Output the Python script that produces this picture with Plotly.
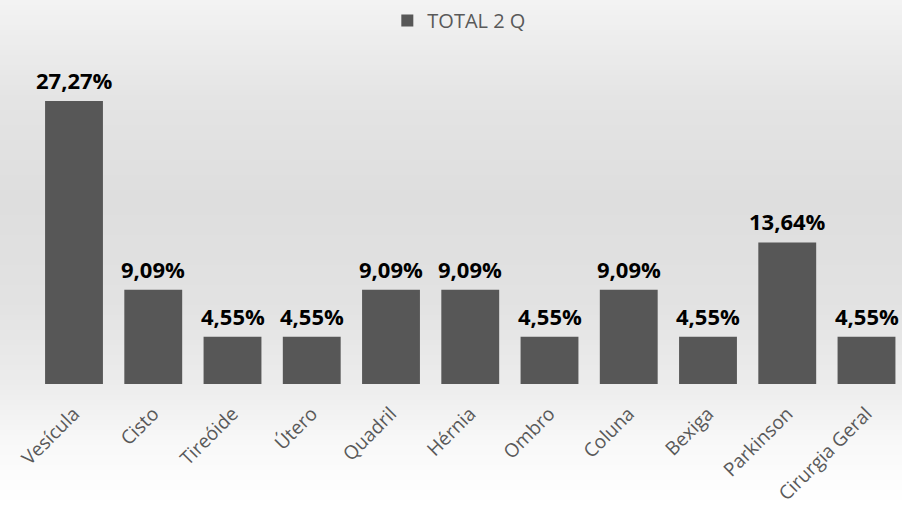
import plotly.graph_objects as go

categories = ["Vesícula", "Cisto", "Tireóide", "Útero", "Quadril", "Hérnia",
              "Ombro", "Coluna", "Bexiga", "Parkinson", "Cirurgia Geral"]
values = [27.27, 9.09, 4.55, 4.55, 9.09, 9.09, 4.55, 9.09, 4.55, 13.64, 4.55]
series_name = "TOTAL 2 Q"
labels = [f"{v:.2f}".replace(".", ",") + "%" for v in values]

W, H = 902, 505
PLOT_TOP, PLOT_BOTTOM = 40, 384
ML = 34

fig = go.Figure()
fig.add_trace(go.Bar(
    x=categories, y=values, name=series_name,
    marker=dict(color="#575757", line=dict(width=0)),
    cliponaxis=False,
))

annotations = [
    dict(x=c, y=v, xref="x", yref="y", text=t, showarrow=False,
         yanchor="bottom", yshift=4,
         font=dict(family="Open Sans", size=22, color="#000000", weight="bold"))
    for c, v, t in zip(categories, values, labels)
]

def shade(py):
    stops = [(0, 243), (100, 228), (200, 222), (300, 226), (384, 236), (440, 248), (505, 255)]
    for (y0, c0), (y1, c1) in zip(stops, stops[1:]):
        if y0 <= py <= y1:
            t = (py - y0) / (y1 - y0)
            return int(round(c0 + (c1 - c0) * t))
    return 255

shapes = []
step = 5
for py in range(0, H, step):
    g = shade(py + step / 2)
    y0 = (PLOT_BOTTOM - (py + step)) / (PLOT_BOTTOM - PLOT_TOP)
    y1 = (PLOT_BOTTOM - py) / (PLOT_BOTTOM - PLOT_TOP)
    x0 = -ML / (W - ML)
    shapes.append(dict(type="rect", xref="paper", yref="paper", x0=x0, x1=1.01,
                       y0=y0, y1=y1, fillcolor=f"rgb({g},{g},{g})",
                       line=dict(width=0), layer="below"))

px_per_unit = 79.25
first_center = 74
x_lo = -(first_center - ML) / px_per_unit
x_hi = (W - first_center) / px_per_unit
y_max = (PLOT_BOTTOM - PLOT_TOP) / (283 / 27.27)

fig.update_layout(
    width=W, height=H,
    margin=dict(l=ML, r=0, t=PLOT_TOP, b=H - PLOT_BOTTOM, pad=0, autoexpand=False),
    paper_bgcolor="white", plot_bgcolor="rgba(0,0,0,0)",
    shapes=shapes,
    annotations=annotations,
    showlegend=True,
    legend=dict(orientation="h", x=0.49, xanchor="center", y=0.998, yref="container",
                yanchor="top", itemwidth=30,
                font=dict(family="Open Sans", size=20, color="#595959"),
                bgcolor="rgba(0,0,0,0)"),
    bargap=0.27,
    xaxis=dict(range=[x_lo, x_hi], tickangle=-45, showgrid=False, zeroline=False,
               showline=False, ticks="", ticklabelstandoff=14, automargin=False,
               tickfont=dict(family="Open Sans", size=19, color="#595959")),
    yaxis=dict(range=[0, y_max], visible=False, showgrid=False, zeroline=False,
               automargin=False),
)

fig.write_html("out.html")
